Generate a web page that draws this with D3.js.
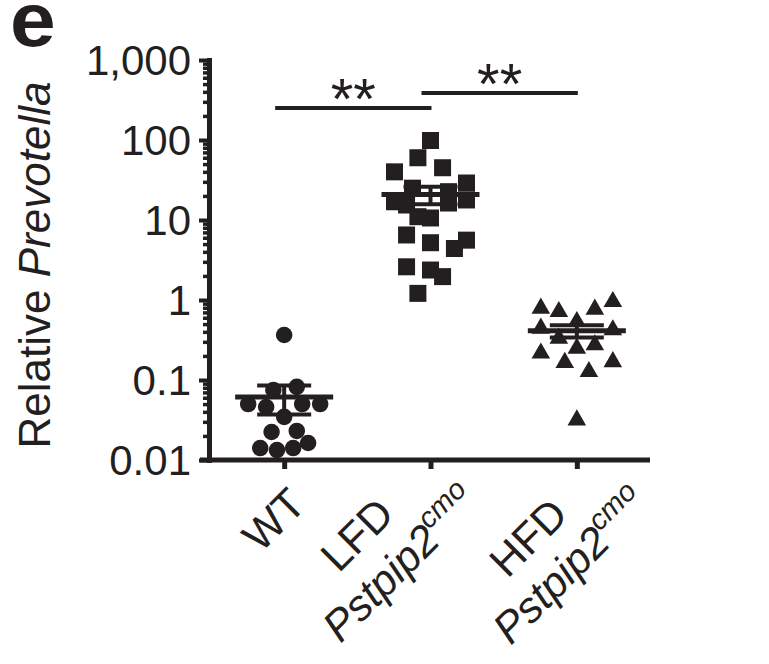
<!DOCTYPE html>
<html>
<head>
<meta charset="utf-8">
<script src="https://cdn.jsdelivr.net/npm/d3@7"></script>
<style>
  body { margin: 0; background: #fff; }
  text { font-family: "Liberation Sans", Arial, sans-serif; fill: #231f20; }
</style>
</head>
<body>
<svg id="chart"></svg>
<script>
// groups and the values (relative Prevotella, log scale)
var groups = ["WT", "LFD", "HFD"]
var wtValues  = [0.365, 0.075, 0.082, 0.050, 0.046, 0.050, 0.050, 0.0346, 0.0224, 0.0231, 0.0141, 0.0133, 0.0141, 0.0163]
var wtLanes   = [0, -0.6, 0.7, -2, -1, 1, 2, 0, -0.7, 0.7, -1.33, -0.4, 0.5, 1.33]
var lfdValues = [98.6, 60, 45, 40, 29, 25, 22.6, 17.8, 16.9, 16.3, 15.4, 11, 10.6, 6.5, 5.6, 5.2, 4.4, 2.6, 2.37, 1.96, 1.21]
var lfdLanes  = [0, -0.7, 0.67, -2, 2, -1, 1, 2, -2, 1, -1.33, -0.7, 0, -1.33, 2, 0, 1.33, -1.33, 0, 0.67, -0.7]
var hfdValues = [0.788, 0.714, 0.765, 0.952, 0.535, 0.443, 0.422, 0.332, 0.249, 0.274, 0.216, 0.165, 0.169, 0.127, 0.0316]
var hfdLanes  = [-2, -1, 1, 2, 0, -2, 2, -1, 0, 1, -2, -0.67, 2, 0.67, 0]
var yTicks = [0.01, 0.1, 1, 10, 100, 1000]
var signif = [["WT", "LFD", "**"], ["LFD", "HFD", "**"]]

var width = 769
var height = 664
var ink = "#231f20"

var svg = d3.select("#chart")
  .attr("width", width)
  .attr("height", height)

var x = d3.scalePoint().domain(groups).range([211, 650]).padding(0.5)
var y = d3.scaleLog().domain([0.01, 1000]).range([460, 60])
var lane = d3.scaleLinear().domain([-1, 1]).range([-18, 18])

var series = [
  {group: "WT", values: wtValues, lanes: wtLanes, shape: d3.symbolCircle, size: 215},
  {group: "LFD", values: lfdValues, lanes: lfdLanes, shape: d3.symbolSquare, size: 289},
  {group: "HFD", values: hfdValues, lanes: hfdLanes, shape: d3.symbolTriangle, size: 150}
]

// y axis, major + minor ticks
var minor = []
yTicks.slice(0, -1).forEach(function(t) {
  for (var k = 2; k < 10; k++) minor.push(t * k)
})

var yAxis = svg.append("g")
  .attr("transform", "translate(209,0)")
  .call(d3.axisLeft(y).tickValues(yTicks).tickSize(10).tickSizeOuter(0).tickPadding(8).tickFormat(d3.format(",")))
yAxis.select(".domain").attr("stroke", ink).attr("stroke-width", 5).attr("stroke-linecap", "square")
yAxis.selectAll(".tick line").attr("stroke", ink).attr("stroke-width", 4)
yAxis.selectAll(".tick text").attr("font-size", 42).attr("fill", ink).attr("dy", "0.34em")

svg.append("g")
  .attr("transform", "translate(209,0)")
  .call(d3.axisLeft(y).tickValues(minor).tickSize(6).tickFormat(""))
  .call(g => g.select(".domain").remove())
  .selectAll(".tick line").attr("stroke", ink).attr("stroke-width", 3.5)

// x axis
var xAxis = svg.append("g")
  .attr("transform", "translate(0,460)")
  .call(d3.axisBottom(x).tickSize(9).tickFormat(""))
xAxis.select(".domain").remove()
xAxis.selectAll(".tick line").attr("stroke", ink).attr("stroke-width", 5)
xAxis.append("line")
  .attr("x1", 200).attr("x2", 650)
  .attr("stroke", ink).attr("stroke-width", 5)

// points
series.forEach(function(s) {
  var pts = s.values.map((v, i) => ({v: v, l: s.lanes[i]}))
  svg.append("g")
    .selectAll("path")
    .data(pts)
    .enter()
    .append("path")
    .attr("d", d3.symbol().type(s.shape).size(s.size))
    .attr("transform", d => "translate(" + (x(s.group) + lane(d.l)) + "," + y(d.v) + ")")
    .attr("fill", ink)
})

// mean +/- SEM
series.forEach(function(s) {
  var m = d3.mean(s.values)
  var sem = d3.deviation(s.values) / Math.sqrt(s.values.length)
  var cx = x(s.group)
  var g = svg.append("g").attr("stroke", ink)
  g.append("line")
    .attr("x1", cx).attr("x2", cx)
    .attr("y1", y(m + sem)).attr("y2", y(m - sem))
    .attr("stroke-width", 4)
  g.selectAll(".cap")
    .data([m + sem, m - sem])
    .enter()
    .append("line")
    .attr("x1", cx - 27).attr("x2", cx + 27)
    .attr("y1", d => y(d)).attr("y2", d => y(d))
    .attr("stroke-width", 4)
  g.append("line")
    .attr("x1", cx - 49).attr("x2", cx + 49)
    .attr("y1", y(m)).attr("y2", y(m))
    .attr("stroke-width", 5)
})

// significance bars
var barY = [108, 93]
signif.forEach(function(s, i) {
  var x1 = x(s[0]) - 9, x2 = x(s[1]) + 1
  svg.append("line")
    .attr("x1", x1).attr("x2", x2)
    .attr("y1", barY[i]).attr("y2", barY[i])
    .attr("stroke", ink).attr("stroke-width", 4)
  svg.append("text")
    .attr("x", (x1 + x2) / 2)
    .attr("y", barY[i] + 11)
    .attr("text-anchor", "middle")
    .attr("font-size", 58)
    .text(s[2])
})

// category labels, rotated
var labelPos = {WT: [[0, 530]], LFD: [[-63, 545], [-20, 574]], HFD: [[-38, 548], [4, 576]]}
groups.forEach(function(gname) {
  var pos = labelPos[gname]
  svg.append("text")
    .attr("transform", "translate(" + (x(gname) + pos[0][0]) + "," + pos[0][1] + ") rotate(-45)")
    .attr("text-anchor", "middle")
    .attr("font-size", 43)
    .text(gname)
  if (pos.length > 1) {
    var t2 = svg.append("text")
      .attr("transform", "translate(" + (x(gname) + pos[1][0]) + "," + pos[1][1] + ") rotate(-45)")
      .attr("text-anchor", "middle")
      .attr("font-size", 43)
      .attr("font-style", "italic")
    t2.append("tspan").text("Pstpip2")
    t2.append("tspan").attr("font-size", 29).attr("dy", -18).text("cmo")
  }
})

// y label
var yl = svg.append("text")
  .attr("transform", "translate(50,265) rotate(-90)")
  .attr("text-anchor", "middle")
  .attr("font-size", 44)
yl.append("tspan").text("Relative ")
yl.append("tspan").attr("font-style", "italic").text("Prevotella")

// panel letter
svg.append("text")
  .attr("transform", "translate(10,46) scale(1.08,1)")
  .attr("font-size", 76)
  .attr("font-weight", "bold")
  .text("e")
</script>
</body>
</html>
